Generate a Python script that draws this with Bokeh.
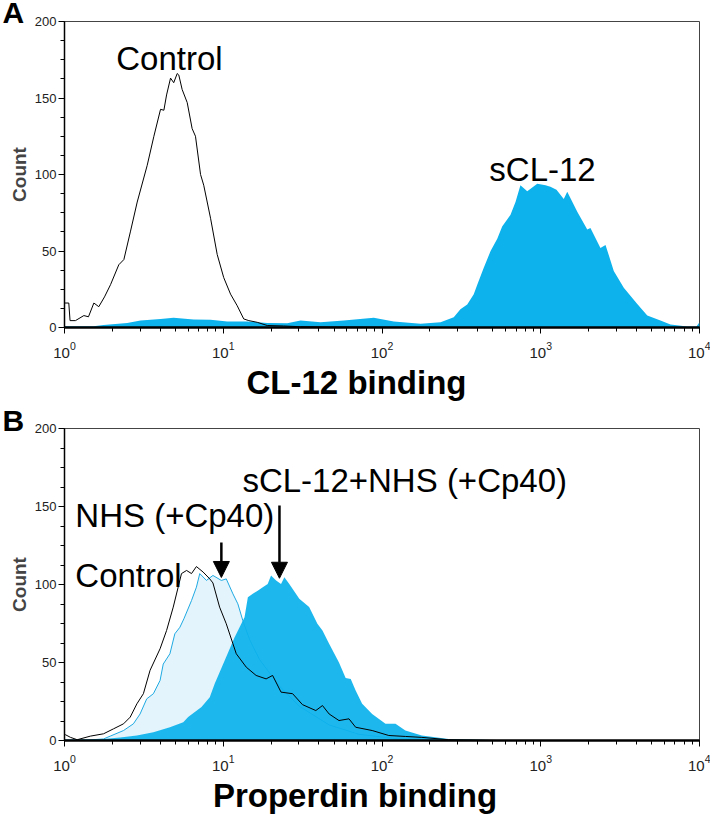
import numpy as np
from bokeh.plotting import figure
from bokeh.models import Range1d, SingleIntervalTicker, LogTicker, Label, Arrow, NormalHead, Title
from bokeh.layouts import column
from bokeh.embed import file_html
from bokeh.resources import INLINE

# ---------------- data (x given as log10 of fluorescence intensity) ----------------
# Panel A: CL-12 binding
a_ctrl_log = [0.000, 0.027, 0.035, 0.069, 0.122, 0.151, 0.185, 0.216, 0.252, 0.290, 0.342, 0.374,
              0.416, 0.458, 0.521, 0.563, 0.605, 0.626, 0.643, 0.668, 0.688, 0.710, 0.720, 0.741,
              0.773, 0.804, 0.825, 0.857, 0.877, 0.920, 0.962, 1.003, 1.046, 1.088, 1.129, 1.161,
              1.214, 1.277, 1.380, 1.487, 1.676, 1.900, 2.300]
a_ctrl_cnt = [16, 16, 4.5, 4.5, 7.8, 7, 16, 13.6, 20, 28, 41, 44.4,
              63, 82, 106, 125, 142.6, 142, 152, 163, 160, 166, 165, 155.6,
              147, 130, 125, 100, 93, 71.4, 47.7, 32.6, 21.8, 14.2, 5.6, 4.5,
              3.4, 1.3, 1.0, 0.5, 0.3, 0.2, 0]
a_scl_log = [0.000, 0.183, 0.246, 0.395, 0.479, 0.605, 0.687, 0.813, 0.920, 1.025, 1.151, 1.277,
             1.403, 1.487, 1.613, 1.759, 1.948, 2.074, 2.243, 2.369, 2.452, 2.494, 2.537, 2.578,
             2.600, 2.641, 2.684, 2.726, 2.757, 2.809, 2.841, 2.872, 2.915, 2.978, 3.030, 3.061,
             3.099, 3.145, 3.167, 3.230, 3.293, 3.313, 3.376, 3.408, 3.460, 3.523, 3.608, 3.671,
             3.754, 3.817, 3.922, 3.981, 4.000]
a_scl_cnt = [0.8, 0.8, 1.7, 3, 4.5, 5.6, 6.3, 5.2, 5, 4, 4, 3,
             2.8, 4.5, 3.5, 4.5, 6.3, 4, 2.4, 3.5, 6.7, 12, 15, 21.8,
             28, 39, 50, 58, 66, 73.6, 82, 93, 89, 94, 93, 92,
             90, 84, 88.7, 75.7, 64, 65, 52, 54, 37, 26, 15.3, 7.8,
             4.5, 2, 0.6, 0.6, 3.4]

# Panel B: Properdin binding
b_ctrl_log = [0.000, 0.006, 0.038, 0.080, 0.163, 0.246, 0.309, 0.372, 0.414, 0.456, 0.497, 0.539,
              0.602, 0.643, 0.685, 0.716, 0.737, 0.769, 0.800, 0.831, 0.873, 0.915, 0.935, 0.977,
              1.019, 1.061, 1.082, 1.145, 1.207, 1.270, 1.311, 1.364, 1.437, 1.499, 1.583, 1.625,
              1.667, 1.729, 1.792, 1.834, 1.938, 2.043, 2.147, 2.251, 2.419, 2.730]
b_ctrl_cnt = [3.7, 3.7, 2, 0.5, 2.8, 4.3, 7.5, 10.7, 15, 23.5, 30, 45,
              58.8, 70.5, 85.5, 98.3, 107, 109, 107, 111.5, 108, 103.6, 101, 85.5,
              74.8, 62, 55.6, 47, 41.7, 39.5, 41.7, 31, 30, 23, 19.2, 22.4,
              17, 12.8, 13.9, 8.5, 6.4, 3.2, 2.6, 2, 0.5, 0]
b_nhs_log = [0.000, 0.150, 0.246, 0.288, 0.372, 0.434, 0.476, 0.518, 0.560, 0.602, 0.622, 0.664,
             0.695, 0.727, 0.752, 0.800, 0.831, 0.852, 0.894, 0.935, 0.988, 1.019, 1.061, 1.092,
             1.123, 1.165, 1.228, 1.353, 1.479, 1.667, 1.855, 2.105, 2.293]
b_nhs_cnt = [0.3, 0.3, 1, 2.8, 6.4, 10.7, 17, 26.7, 30, 38.5, 49, 55.6,
             68.4, 72.6, 78, 89.7, 98.3, 107, 102.6, 105.8, 102.6, 103.6, 94, 87.6,
             77, 65, 52, 35, 22, 10, 4, 1, 0]
b_scl_log = [0.000, 0.226, 0.351, 0.456, 0.560, 0.664, 0.748, 0.779, 0.863, 0.915, 0.946, 1.009,
             1.071, 1.134, 1.155, 1.186, 1.217, 1.249, 1.280, 1.301, 1.333, 1.364, 1.385, 1.416,
             1.479, 1.541, 1.593, 1.625, 1.667, 1.729, 1.771, 1.803, 1.834, 1.875, 1.938, 2.022,
             2.085, 2.147, 2.251, 2.419, 2.688, 2.860]
b_scl_cnt = [0.3, 0.8, 2, 3.2, 5.3, 8.5, 11.7, 15, 21.4, 27.8, 36.3, 51.3,
             66, 79, 91.9, 94, 96, 98.3, 100.4, 105.8, 102.6, 100.4, 104.7, 100.4,
             90.8, 85.5, 74.8, 70.5, 62, 50, 40, 39.5, 32, 23.5, 17, 10.7,
             10.7, 6.4, 3.2, 1, 0.3, 0]

y_range = (0, 200)
x_range = (1, 1e4)

BLUE = "#0DB1EC"
LIGHT = "#E3F4FC"
NHS_LINE = "#1EA9E2"
FONT = "Liberation Sans"


def style(p, xtitle, xtitle_pos):
    p.xgrid.visible = False
    p.ygrid.visible = False
    p.outline_line_color = "#444444"
    p.outline_line_width = 1
    p.background_fill_color = "white"
    p.border_fill_color = "white"
    ya = p.yaxis[0]
    ya.ticker = SingleIntervalTicker(interval=50, num_minor_ticks=4)
    ya.major_tick_in = 0
    ya.major_tick_out = 6
    ya.minor_tick_in = 0
    ya.minor_tick_out = 4
    ya.axis_line_width = 1.5
    ya.major_label_text_font = FONT
    ya.major_label_text_font_size = "13px"
    ya.major_label_text_color = "#222222"
    ya.major_label_standoff = 2
    ya.axis_label = "Count"
    ya.axis_label_text_font = FONT
    ya.axis_label_text_font_style = "bold"
    ya.axis_label_text_font_size = "19px"
    ya.axis_label_standoff = 2
    xa = p.xaxis[0]
    xa.ticker = LogTicker(num_minor_ticks=10)
    xa.major_tick_in = 0
    xa.major_tick_out = 6
    xa.minor_tick_in = 0
    xa.minor_tick_out = 4
    xa.axis_line_width = 2.5
    xa.major_label_text_font = FONT
    xa.major_label_text_font_size = "15px"
    xa.major_label_text_color = "#222222"
    xa.major_label_standoff = 8
    p.add_layout(Label(x=xtitle_pos[0], y=xtitle_pos[1], text=xtitle, text_font=FONT,
                       text_font_style="bold", text_font_size="33px", text_align="center",
                       text_baseline="middle", text_color="black"), "below")


def panel_letter(p, txt, standoff):
    p.add_layout(Title(text=txt, align="left", offset=-62, standoff=standoff,
                       vertical_align="bottom", text_font=FONT, text_font_style="bold",
                       text_font_size="30px", text_color="black"), "above")


def txt(p, s, pos, align="left"):
    p.add_layout(Label(x=pos[0], y=pos[1], text=s, text_font=FONT, text_font_size="33px",
                       text_align=align, text_baseline="alphabetic", text_color="black"))


# ---------------- Panel A ----------------
pa = figure(width=710, height=408, x_axis_type="log",
            x_range=Range1d(*x_range), y_range=Range1d(*y_range),
            output_backend="svg", toolbar_location=None,
            min_border_left=64, min_border_right=11, min_border_top=18, min_border_bottom=81)
xa_s = 10 ** np.array(a_scl_log)
pa.varea(x=xa_s, y1=np.zeros(len(a_scl_cnt)), y2=a_scl_cnt, fill_color=BLUE)
pa.line(x=10 ** np.array(a_ctrl_log), y=a_ctrl_cnt, line_color="black", line_width=1)
style(pa, "CL-12 binding", (69.1, -36.2))
panel_letter(pa, "A", -14)
txt(pa, "Control", (4.58, 176.0), "center")
txt(pa, "sCL-12", (1026, 103.5), "center")

# ---------------- Panel B ----------------
pb = figure(width=710, height=416, x_axis_type="log",
            x_range=Range1d(*x_range), y_range=Range1d(*y_range),
            output_backend="svg", toolbar_location=None,
            min_border_left=64, min_border_right=8, min_border_top=20, min_border_bottom=84)
xn = 10 ** np.array(b_nhs_log)
pb.varea(x=xn, y1=np.zeros(len(b_nhs_cnt)), y2=b_nhs_cnt, fill_color=LIGHT)
pb.line(x=xn, y=b_nhs_cnt, line_color=NHS_LINE, line_width=1)
pb.varea(x=10 ** np.array(b_scl_log), y1=np.zeros(len(b_scl_cnt)), y2=b_scl_cnt,
         fill_color=BLUE, fill_alpha=0.93)
pb.line(x=10 ** np.array(b_ctrl_log), y=b_ctrl_cnt, line_color="black", line_width=1)
style(pb, "Properdin binding", (67.6, -35.3))
panel_letter(pb, "B", -17)
txt(pb, "NHS (+Cp40)", (1.17, 144.2))
txt(pb, "Control", (1.17, 105.7))
txt(pb, "sCL-12+NHS (+Cp40)", (13.2, 166.6))

arrow_x = [9.73, 22.6]
arrow_y0 = [127, 150.6]
arrow_y1 = [104.5, 104]
for ax_, y0, y1 in zip(arrow_x, arrow_y0, arrow_y1):
    pb.add_layout(Arrow(x_start=ax_, y_start=y0, x_end=ax_, y_end=y1, line_width=2.5,
                        line_color="black",
                        end=NormalHead(size=16, fill_color="black", line_color="black")))

layout = column(pa, pb, spacing=0)
open("out.html", "w").write(file_html(layout, INLINE))
